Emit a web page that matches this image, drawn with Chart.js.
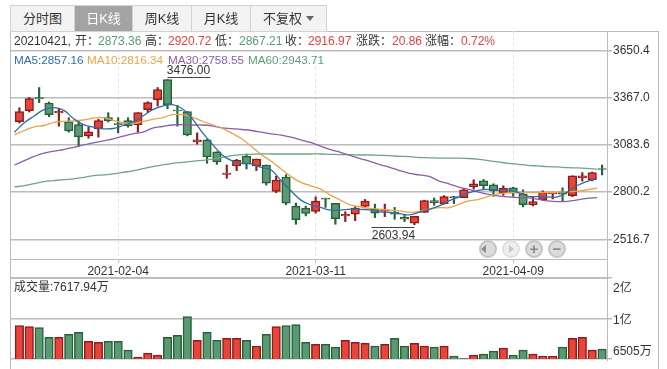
<!DOCTYPE html>
<html>
<head>
  <title>日K线</title>
  <script src="https://cdn.jsdelivr.net/npm/chart.js"></script>
  <style>
    html, body { margin: 0; padding: 0; background: #fff; }
    body { width: 667px; height: 369px; position: relative; overflow: hidden; font: 12px "Liberation Sans", "Noto Sans CJK SC", sans-serif; color: #333; }
    canvas { position: absolute; left: 0; }
    #priceChart { top: 0; }
    #volumeChart { top: 270px; }
    .tab { position: absolute; top: 5px; height: 25px; line-height: 25px; text-align: center; font-size: 13px; background: #f3f3f3; border: 1px solid #d2d2d2; box-sizing: content-box; }
    .tab.on { background: #a3a3a3; color: #fff; }
    .caret { display: inline-block; border: 4px solid transparent; border-top: 5px solid #666; border-bottom: 0; margin-left: 4px; vertical-align: 2px; }
    .frame { position: absolute; background: #bcbcbc; }
    .info span { position: absolute; top: 34px; line-height: 15px; white-space: nowrap; }
    .ma span { position: absolute; top: 52px; line-height: 15px; white-space: nowrap; font-size: 11.7px; }
    .up { color: #e8413c; }
    .down { color: #5a9a76; }
    .btn { position: absolute; top: 240px; width: 14px; height: 14px; line-height: 13px; border: 2px solid #c4c4c4; border-radius: 50%; background: #dcdcdc; text-align: center; color: #8a8a8a; font-weight: bold; font-size: 15px; }
    .btn.off { background: #eee; border-color: #e0e0e0; }
    .arrow { position: absolute; top: 3px; border: 4px solid transparent; }
  </style>
</head>
<body>
  <div class="frame" style="left:10px;top:31px;width:1px;height:338px"></div>
  <div class="frame" style="left:10px;top:31px;width:649px;height:1px"></div>
  <div class="frame" style="left:658px;top:31px;width:1px;height:338px"></div>
  <div class="frame" style="left:607px;top:31px;width:1px;height:330px"></div>
  <div class="frame" style="left:10px;top:259px;width:597px;height:1px"></div>
  <div class="frame" style="left:10px;top:278px;width:597px;height:1px"></div>

  <canvas id="priceChart" width="667" height="280"></canvas>
  <canvas id="volumeChart" width="667" height="99"></canvas>

  <div class="tab" style="left:10px;width:63px">分时图</div>
  <div class="tab on" style="left:74px;width:57px">日K线</div>
  <div class="tab" style="left:132px;width:58px">周K线</div>
  <div class="tab" style="left:191px;width:58px">月K线</div>
  <div class="tab" style="left:250px;width:75px">不复权<i class="caret"></i></div>

  <div class="info">
    <span style="left:14px">20210421,</span>
    <span style="left:75px">开：</span><span class="down" style="left:98px">2873.36</span>
    <span style="left:145px">高：</span><span class="up" style="left:168px">2920.72</span>
    <span style="left:215px">低：</span><span class="down" style="left:239px">2867.21</span>
    <span style="left:285px">收：</span><span class="up" style="left:308px">2916.97</span>
    <span style="left:356px">涨跌：</span><span class="up" style="left:392px">20.86</span>
    <span style="left:425px">涨幅：</span><span class="up" style="left:461px">0.72%</span>
  </div>
  <div class="ma">
    <span style="left:14px;color:#2f6da5">MA5:2857.16</span>
    <span style="left:87px;color:#e9a54c">MA10:2816.34</span>
    <span style="left:168px;color:#8b5ea8">MA30:2758.55</span>
    <span style="left:248px;color:#5c9a78">MA60:2943.71</span>
  </div>

  <div class="btn" style="left:479px"><i class="arrow" style="left:0;border-right:5px solid #8a8a8a;border-left:0"></i></div>
  <div class="btn off" style="left:502px"><i class="arrow" style="left:5px;border-left:5px solid #c8c8c8;border-right:0"></i></div>
  <div class="btn" style="left:525px">+</div>
  <div class="btn" style="left:548px">−</div>

  <script>
    const dates = ["2021-01-21","2021-01-22","2021-01-25","2021-01-26","2021-01-27","2021-01-28","2021-01-29","2021-02-01","2021-02-02","2021-02-03",
      "2021-02-04","2021-02-05","2021-02-08","2021-02-09","2021-02-10","2021-02-18","2021-02-19","2021-02-22","2021-02-23","2021-02-24",
      "2021-02-25","2021-02-26","2021-03-01","2021-03-02","2021-03-03","2021-03-04","2021-03-05","2021-03-08","2021-03-09","2021-03-10",
      "2021-03-11","2021-03-12","2021-03-15","2021-03-16","2021-03-17","2021-03-18","2021-03-19","2021-03-22","2021-03-23","2021-03-24",
      "2021-03-25","2021-03-26","2021-03-29","2021-03-30","2021-03-31","2021-04-01","2021-04-02","2021-04-06","2021-04-07","2021-04-08",
      "2021-04-09","2021-04-12","2021-04-13","2021-04-14","2021-04-15","2021-04-16","2021-04-19","2021-04-20","2021-04-21","2021-04-22"];

    const opens = [3223,3289,3367,3335,3275,3223,3205,3138,3180,3247,
      3211,3229,3205,3295,3355,3476,3293,3283,3102,3114,
      3042,2907,2957,3017,2957,2963,2804,2891,2716,2704,
      2684,2764,2732,2657,2667,2714,2696,2686,2680,2649,
      2613,2678,2749,2731,2773,2767,2832,2868,2844,2797,
      2826,2789,2725,2755,2789,2802,2779,2886,2873.36,2941];
    const closes = [3283,3361,3359,3265,3285,3168,3132,3162,3229,3229,
      3203,3198,3277,3337,3416,3325,3287,3144,3114,3012,
      2981,2915,2993,2969,2999,2854,2873,2734,2635,2672,
      2746,2758,2641,2667,2704,2746,2674,2694,2667,2637,
      2655,2749,2737,2773,2765,2814,2850,2838,2808,2824,
      2793,2725,2743,2800,2795,2787,2898,2898,2916.97,2937];
    const highs = [3307,3369,3428,3341,3301,3247,3225,3190,3237,3277,
      3247,3247,3277,3343,3428,3476,3321,3283,3156,3116,
      3042,2963,2997,3029,2999,2963,2895,2905,2734,2716,
      2772,2764,2732,2682,2712,2756,2728,2728,2708,2667,
      2655,2751,2765,2779,2775,2820,2874,2876,2850,2838,
      2830,2814,2773,2808,2800,2826,2898,2917,2920.72,2963];
    const lows = [3215,3281,3337,3253,3196,3160,3074,3124,3130,3221,
      3156,3190,3160,3277,3317,3301,3196,3138,3088,2973,
      2967,2883,2929,2939,2929,2842,2796,2724,2607,2657,
      2674,2708,2607,2623,2629,2712,2647,2653,2637,2623,
      2603.94,2678,2721,2727,2731,2767,2818,2816,2775,2781,
      2775,2711,2717,2751,2759,2747,2773,2866,2867.21,2903];

    const ma5 = [3160,3217,3257,3295,3307,3291,3241,3205,3190,3180,
      3182,3200,3221,3257,3295,3317,3325,3301,3241,3160,
      3090,3025,2989,2973,2969,2949,2933,2868,2808,2752,
      2724,2708,2692,2692,2698,2696,2694,2682,2678,2671,
      2663,2680,2696,2717,2747,2771,2795,2810,2816,2812,
      2814,2797,2775,2773,2771,2771,2800,2840,2864,2886];
    const ma10 = [3144,3170,3192,3200,3219,3225,3227,3233,3245,3247,
      3231,3217,3211,3223,3237,3247,3265,3265,3251,3227,
      3205,3184,3154,3120,3074,3025,2985,2939,2893,2858,
      2838,2818,2782,2752,2724,2712,2702,2698,2692,2688,
      2678,2684,2698,2707,2707,2727,2747,2757,2775,2791,
      2795,2799,2797,2797,2799,2799,2802,2806,2814,2824];
    const ma30 = [2963,2989,3014,3034,3046,3056,3068,3084,3096,3108,
      3120,3136,3150,3160,3184,3194,3203,3205,3203,3203,
      3198,3186,3181,3176,3170,3160,3150,3142,3130,3114,
      3098,3076,3055,3039,3021,3001,2985,2965,2949,2929,
      2913,2903,2894,2866,2850,2830,2816,2800,2787,2777,
      2771,2767,2765,2757,2747,2743,2745,2753,2763,2767];
    const ma60 = [2831,2839,2851,2863,2869,2875,2879,2889,2899,2903,
      2909,2919,2927,2941,2953,2963,2973,2979,2985,2991,
      2998,3008,3019,3025,3027,3029,3029,3029,3029,3029,
      3029,3029,3027,3025,3025,3023,3023,3021,3019,3015,
      3013,3008,3006,3004,3004,3004,3002,2997,2989,2981,
      2973,2967,2961,2957,2953,2951,2947,2945,2943,2937];

    const volumes = [10279,10168,10057,8947,8947,9280,9502,8503,8392,8503,
      8503,7504,6727,7171,6949,8947,9169,11278,8614,9502,
      8614,8836,8836,8614,7948,9280,10168,10279,10390,8392,
      8170,8170,7837,8614,8392,8281,7948,8170,8836,7948,
      8281,7948,7837,7948,6838,6542,6949,7060,7393,7726,
      6949,7504,7060,6838,6838,7837,8836,8947,7504,7617.94];

    const priceTicks = [3650.4, 3367.0, 3083.6, 2800.2, 2516.7];
    const volumeTicks = [15630, 11068, 6505];
    const volumeTickLabels = ["2亿", "1亿", "6505万"];
    const dateTicks = ["2021-02-04", "2021-03-11", "2021-04-09"];

    const RED = "#e8443a", RED_DARK = "#8e1b1e", GREEN = "#5a9a72", GREEN_DARK = "#28603a";
    const GRID = "#bcbcbc";
    const FONT = { family: '"Liberation Sans", "Noto Sans CJK SC", sans-serif', size: 12 };

    const isUp = i => closes[i] >= opens[i];
    const fills = dates.map((d, i) => isUp(i) ? RED : GREEN);
    const edges = dates.map((d, i) => isUp(i) ? RED_DARK : GREEN_DARK);

    // moving averages sit half a slot left of the candles in the original
    function maLine(values, color) {
      return {
        type: "line",
        data: values.map((v, i) => ({ x: i - 0.5, y: v })),
        borderColor: color,
        borderWidth: 1.3,
        pointRadius: 0,
        tension: 0.4,
        order: 1
      };
    }

    // bar charts turn offset on by default, which would squeeze the linear x axis
    const xRange = { type: "linear", min: -0.95, max: 59.5, offset: false };

    // high and low markers above the tallest and below the lowest candle
    const extremes = {
      id: "extremes",
      afterDatasetsDraw(chart) {
        const { ctx, scales: { x, y } } = chart;
        const hi = highs.indexOf(Math.max(...highs));
        const lo = lows.indexOf(Math.min(...lows));
        ctx.save();
        ctx.font = "12px " + FONT.family;
        ctx.fillStyle = "#333";
        ctx.strokeStyle = "#444";
        ctx.lineWidth = 1;
        ctx.textAlign = "center";

        let px = x.getPixelForValue(hi), py = Math.round(y.getPixelForValue(highs[hi])) - 3;
        ctx.beginPath(); ctx.moveTo(px, py + 0.5); ctx.lineTo(px + 43, py + 0.5); ctx.stroke();
        ctx.textBaseline = "bottom";
        ctx.fillText(highs[hi].toFixed(2), px + 21, py);

        px = x.getPixelForValue(lo); py = Math.round(y.getPixelForValue(lows[lo])) + 2;
        ctx.beginPath(); ctx.moveTo(px - 43, py + 0.5); ctx.lineTo(px, py + 0.5); ctx.stroke();
        ctx.textBaseline = "top";
        ctx.fillText(lows[lo].toFixed(2), px - 21, py + 3);
        ctx.restore();
      }
    };

    new Chart(document.getElementById("priceChart"), {
      data: {
        datasets: [
          maLine(ma5, "#2f6da5"),
          maLine(ma10, "#e9a54c"),
          maLine(ma30, "#8b5ea8"),
          maLine(ma60, "#6ea587"),
          {
            type: "bar",
            data: dates.map((d, i) => ({ x: i, y: [opens[i], closes[i]] })),
            backgroundColor: fills,
            borderColor: edges,
            borderWidth: 1.5,
            borderSkipped: false,
            barThickness: 8.5,
            grouped: false,
            order: 2
          },
          {
            type: "bar",
            data: dates.map((d, i) => ({ x: i, y: [lows[i], highs[i]] })),
            backgroundColor: edges,
            barThickness: 1.5,
            grouped: false,
            order: 3
          }
        ]
      },
      options: {
        responsive: false,
        animation: false,
        layout: { padding: { left: 10, top: 31 } },
        plugins: { legend: { display: false }, tooltip: { enabled: false } },
        scales: {
          x: {
            ...xRange,
            afterBuildTicks(s) { s.ticks = dateTicks.map(d => ({ value: dates.indexOf(d) })); },
            afterFit(s) { s.height = 21; },
            grid: { offset: false, color: "#e2e2e2", tickColor: GRID, tickLength: 4, drawOnChartArea: true },
            border: { display: false, dash: [3, 3] },
            ticks: { color: "#333", font: FONT, maxRotation: 0, padding: 1, autoSkip: false, callback: v => dates[v] }
          },
          y: {
            position: "right",
            min: 2398.4,
            max: 3767.5,
            afterBuildTicks(s) { s.ticks = priceTicks.map(v => ({ value: v })); },
            afterFit(s) { s.width = 60; },
            grid: { color: GRID, lineWidth: 1.5, tickLength: 5 },
            border: { display: false },
            ticks: { color: "#333", font: FONT, padding: 1, callback: v => v.toFixed(1) }
          }
        }
      },
      plugins: [extremes]
    });

    // tick labels are pushed inward so they stay inside the volume panel
    const volumeLabels = {
      id: "volumeLabels",
      afterDraw(chart) {
        const { ctx, scales: { y } } = chart;
        const shift = [11, 2, -7];
        ctx.save();
        ctx.font = "12px " + FONT.family;
        ctx.fillStyle = "#333";
        ctx.textBaseline = "middle";
        volumeTicks.forEach((v, i) => ctx.fillText(volumeTickLabels[i], y.left + 6, y.getPixelForValue(v) + shift[i]));
        ctx.fillText("成交量:7617.94万", 14, 18);
        ctx.restore();
      }
    };

    new Chart(document.getElementById("volumeChart"), {
      data: {
        datasets: [{
          type: "bar",
          data: volumes.map((v, i) => ({ x: i, y: v })),
          backgroundColor: fills,
          borderColor: edges,
          borderWidth: 1.5,
          borderSkipped: false,
          barThickness: 8.5
        }]
      },
      options: {
        responsive: false,
        animation: false,
        layout: { padding: { left: 10, top: 8, bottom: 10 } },
        plugins: { legend: { display: false }, tooltip: { enabled: false } },
        scales: {
          x: { ...xRange, display: false },
          y: {
            position: "right",
            min: volumeTicks[2],
            max: volumeTicks[0],
            afterBuildTicks(s) { s.ticks = volumeTicks.map(v => ({ value: v })); },
            afterFit(s) { s.width = 60; },
            grid: { color: GRID, lineWidth: 1.5, tickLength: 5 },
            border: { display: false },
            ticks: { display: false }
          }
        }
      },
      plugins: [volumeLabels]
    });
  </script>
</body>
</html>
